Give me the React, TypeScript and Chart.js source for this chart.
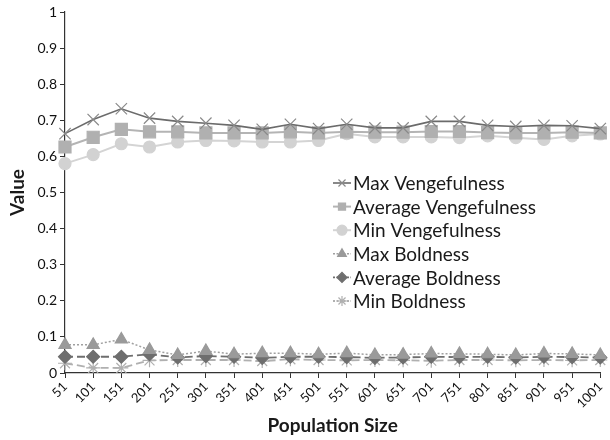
import React, { useEffect, useRef } from "react";
import { Chart, registerables } from "chart.js";
import { drawPoint } from "chart.js/helpers";

Chart.register(...registerables);

const populationSizes = [
  "51", "101", "151", "201", "251", "301", "351", "401", "451", "501",
  "551", "601", "651", "701", "751", "801", "851", "901", "951", "1001",
];

const maxVengefulness = [
  0.663, 0.702, 0.732, 0.706, 0.697, 0.692, 0.686, 0.675, 0.689, 0.677,
  0.689, 0.679, 0.679, 0.697, 0.697, 0.686, 0.683, 0.686, 0.685, 0.677,
];
const averageVengefulness = [
  0.626, 0.653, 0.675, 0.668, 0.668, 0.665, 0.665, 0.665, 0.668, 0.665,
  0.668, 0.667, 0.667, 0.669, 0.669, 0.666, 0.665, 0.665, 0.667, 0.665,
];
const minVengefulness = [
  0.58, 0.605, 0.635, 0.626, 0.64, 0.644, 0.643, 0.64, 0.64, 0.644,
  0.663, 0.654, 0.654, 0.654, 0.652, 0.657, 0.652, 0.647, 0.657, 0.662,
];
const maxBoldness = [
  0.078, 0.078, 0.093, 0.064, 0.05, 0.061, 0.052, 0.055, 0.055, 0.052,
  0.055, 0.05, 0.051, 0.054, 0.053, 0.052, 0.05, 0.054, 0.053, 0.05,
];
const averageBoldness = [
  0.045, 0.045, 0.045, 0.052, 0.043, 0.047, 0.045, 0.042, 0.045, 0.045,
  0.044, 0.042, 0.043, 0.045, 0.044, 0.045, 0.043, 0.045, 0.044, 0.043,
];
const minBoldness = [
  0.027, 0.014, 0.014, 0.035, 0.036, 0.036, 0.036, 0.033, 0.038, 0.036,
  0.035, 0.036, 0.035, 0.034, 0.036, 0.036, 0.035, 0.036, 0.035, 0.036,
];

const FONT = "Lato, 'Open Sans', sans-serif";

type SeriesStyle = {
  label: string;
  data: number[];
  line: string;
  fill: string;
  stroke: string;
  pointStyle: any;
  radius: number;
  dash: number[];
  width: number;
};

const series: SeriesStyle[] = [
  { label: "Max Vengefulness", data: maxVengefulness, line: "#6b6b6b", fill: "#8a8a8a", stroke: "#8a8a8a", pointStyle: "crossRot", radius: 8, dash: [], width: 1.6 },
  { label: "Average Vengefulness", data: averageVengefulness, line: "#b4b4b4", fill: "#b0b0b0", stroke: "#b0b0b0", pointStyle: "rect", radius: 8.5, dash: [], width: 2 },
  { label: "Min Vengefulness", data: minVengefulness, line: "#d4d4d4", fill: "#d2d2d2", stroke: "#d2d2d2", pointStyle: "circle", radius: 6, dash: [], width: 2 },
  { label: "Max Boldness", data: maxBoldness, line: "#a0a0a0", fill: "#9a9a9a", stroke: "#9a9a9a", pointStyle: "triangle", radius: 7, dash: [2, 2], width: 1.5 },
  { label: "Average Boldness", data: averageBoldness, line: "#6e6e6e", fill: "#6e6e6e", stroke: "#6e6e6e", pointStyle: "rectRot", radius: 6.5, dash: [8, 4], width: 1.8 },
  { label: "Min Boldness", data: minBoldness, line: "#b0b0b0", fill: "#b0b0b0", stroke: "#b0b0b0", pointStyle: "star", radius: 7, dash: [8, 4], width: 1.8 },
];

// Legend drawn inside the plot area, stacked entries with line sample + marker
const insideLegend = {
  id: "insideLegend",
  afterDraw(chart: any) {
    const { ctx } = chart;
    const x0 = 333;
    const x1 = 351;
    const textX = 353;
    const yStart = 183;
    const step = 23.6;
    ctx.save();
    ctx.font = `19px ${FONT}`;
    ctx.textBaseline = "middle";
    ctx.textAlign = "left";
    series.forEach((s, i) => {
      const y = yStart + i * step;
      ctx.strokeStyle = s.line;
      ctx.lineWidth = s.width;
      ctx.setLineDash(s.dash.length ? [2, 1.5] : []);
      ctx.beginPath();
      ctx.moveTo(x0, y);
      ctx.lineTo(x1, y);
      ctx.stroke();
      ctx.setLineDash([]);
      ctx.fillStyle = s.fill;
      ctx.strokeStyle = s.stroke;
      ctx.lineWidth = 1.2;
      drawPoint(ctx, { pointStyle: s.pointStyle, rotation: 0, radius: 5, borderWidth: 1.2 }, (x0 + x1) / 2, y);
      ctx.fillStyle = "#1a1a1a";
      ctx.fillText(s.label, textX, y + 1);
    });
    ctx.restore();
  },
};

export default function App() {
  const canvasRef = useRef<HTMLCanvasElement | null>(null);

  useEffect(() => {
    if (!canvasRef.current) return;
    const chart = new Chart(canvasRef.current, {
      type: "line",
      data: {
        labels: populationSizes,
        datasets: series.map((s) => ({
          label: s.label,
          data: s.data,
          borderColor: s.line,
          borderWidth: s.width,
          borderDash: s.dash,
          backgroundColor: s.fill,
          pointStyle: s.pointStyle,
          pointRadius: s.radius,
          pointBackgroundColor: s.fill,
          pointBorderColor: s.stroke,
          pointBorderWidth: 1.2,
          tension: 0,
          fill: false,
        })),
      },
      options: {
        animation: false,
        responsive: true,
        maintainAspectRatio: false,
        layout: { padding: { top: 12, right: 3, left: 0, bottom: 0 } },
        plugins: {
          legend: { display: false },
          tooltip: { enabled: false },
        },
        scales: {
          x: {
            offset: false,
            border: { color: "#333", width: 1.2 },
            grid: { drawOnChartArea: false, drawTicks: true, tickLength: 5, color: "#333" },
            ticks: {
              color: "#111",
              font: { family: FONT, size: 13 },
              minRotation: 45,
              maxRotation: 45,
              autoSkip: false,
              padding: 1,
            },
            title: {
              display: true,
              text: "Population Size",
              color: "#1a1a1a",
              font: { family: FONT, size: 19, weight: "bold" },
              padding: { top: 4, bottom: 3 },
            },
            afterFit(scale: any) {
              scale.height = 67;
              scale.paddingLeft = 0;
              scale.paddingRight = 0;
            },
          },
          y: {
            min: 0,
            max: 1,
            border: { color: "#333", width: 1.2 },
            grid: { drawOnChartArea: false, drawTicks: true, tickLength: 5, color: "#333" },
            ticks: {
              stepSize: 0.1,
              color: "#111",
              font: { family: FONT, size: 14 },
              padding: 3,
              callback: (v: any) => String(Math.round(Number(v) * 10) / 10),
            },
            title: {
              display: true,
              text: "Value",
              color: "#1a1a1a",
              font: { family: FONT, size: 19, weight: "bold" },
              padding: { top: 6, bottom: 4 },
            },
            afterFit(scale: any) {
              scale.width = 65;
              scale.paddingTop = 0;
              scale.paddingBottom = 0;
            },
          },
        },
      },
      plugins: [insideLegend],
    });
    return () => chart.destroy();
  }, []);

  return (
    <div style={{ position: "fixed", left: 0, top: 0, width: 610, height: 440, background: "#fff" }}>
      <canvas ref={canvasRef} />
    </div>
  );
}
